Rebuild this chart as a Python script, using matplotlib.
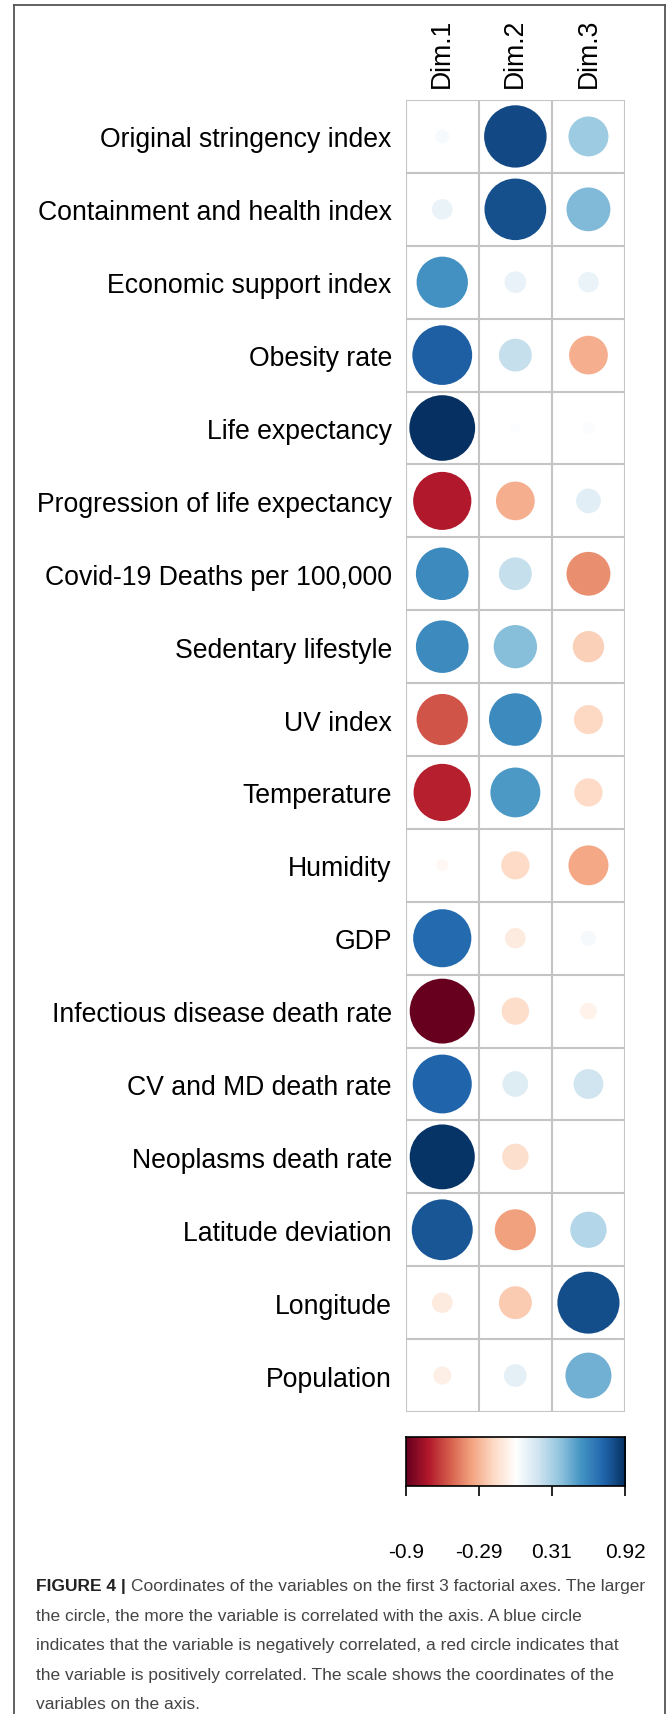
import numpy as np
import matplotlib
matplotlib.use("Agg")
import matplotlib.pyplot as plt
from matplotlib.colors import LinearSegmentedColormap, Normalize
from matplotlib.patches import Circle
from matplotlib.lines import Line2D

plt.rcParams['font.family'] = ['Liberation Sans', 'DejaVu Sans']

# variables (rows) and factorial axes (columns)
variables = [
    "Original stringency index", "Containment and health index",
    "Economic support index", "Obesity rate", "Life expectancy",
    "Progression of life expectancy", "Covid-19 Deaths per 100,000",
    "Sedentary lifestyle", "UV index", "Temperature", "Humidity", "GDP",
    "Infectious disease death rate", "CV and MD death rate",
    "Neoplasms death rate", "Latitude deviation", "Longitude", "Population",
]
dims = ["Dim.1", "Dim.2", "Dim.3"]

# coordinates
dim1 = [0.04, 0.09, 0.56, 0.76, 0.92, -0.72, 0.59, 0.59, -0.56, -0.70,
        -0.03, 0.72, -0.90, 0.74, 0.90, 0.79, -0.09, -0.07]
dim2 = [0.83, 0.81, 0.10, 0.23, 0.02, -0.32, 0.23, 0.40, 0.59, 0.53,
        -0.17, -0.09, -0.16, 0.14, -0.15, -0.36, -0.23, 0.11]
dim3 = [0.34, 0.41, 0.09, -0.32, 0.03, 0.13, -0.41, -0.21, -0.18, -0.17,
        -0.34, 0.05, -0.06, 0.19, 0.0, 0.28, 0.82, 0.45]

scale_min, scale_max = -0.9, 0.92
scale_labels = ["-0.9", "-0.29", "0.31", "0.92"]

caption_bold = "FIGURE 4 | "
caption_lines = [
    "Coordinates of the variables on the first 3 factorial axes. The larger",
    "the circle, the more the variable is correlated with the axis. A blue circle",
    "indicates that the variable is negatively correlated, a red circle indicates that",
    "the variable is positively correlated. The scale shows the coordinates of the",
    "variables on the axis.",
]

# corrplot style red-white-blue ramp
cmap = LinearSegmentedColormap.from_list("corr", [
    "#67001F", "#B2182B", "#D6604D", "#F4A582", "#FDDBC7", "#FFFFFF",
    "#D1E5F0", "#92C5DE", "#4393C3", "#2166AC", "#053061"])
norm = Normalize(scale_min, scale_max)

W, H = 669, 1715
fig = plt.figure(figsize=(W / 100, H / 100), dpi=100)


def box(x0, y0, x1, y1):
    # pixel box (top-left origin) -> figure fraction rect
    return [x0 / W, 1 - y1 / H, (x1 - x0) / W, (y1 - y0) / H]


# main grid
ax = fig.add_axes(box(405.7, 101, 625, 1413))
vals = np.array([dim1, dim2, dim3]).T
nrow, ncol = vals.shape
vmax = np.abs(vals).max()
for i in range(nrow):
    for j in range(ncol):
        v = vals[i, j]
        r = 0.45 * np.sqrt(abs(v) / vmax)
        if r > 0:
            ax.add_patch(Circle((j + 0.5, i + 0.5), r, color=cmap(norm(v)), lw=0))
for k in range(nrow + 1):
    ax.axhline(k, color="#c4c4c4", lw=1.5, zorder=3)
for k in range(ncol + 1):
    ax.axvline(k, color="#c4c4c4", lw=1.5, zorder=3)
ax.set_xlim(0, ncol)
ax.set_ylim(nrow, 0)
for s in ax.spines.values():
    s.set_visible(False)
ax.set_yticks(np.arange(nrow) + 0.5, variables, fontsize=19.2)
ax.xaxis.tick_top()
ax.set_xticks(np.arange(ncol) + 0.5, dims, fontsize=19.2, rotation=90)
ax.tick_params(length=0)
ax.tick_params(axis="y", pad=10)
ax.tick_params(axis="x", pad=9)

# colour scale
cax = fig.add_axes(box(405.7, 1438, 625, 1487))
grad = np.linspace(scale_min, scale_max, 400).reshape(1, -1)
cax.imshow(grad, cmap=cmap, norm=norm, aspect="auto",
           extent=[scale_min, scale_max, 0, 1])
cax.set_xlim(scale_min, scale_max)
cax.set_yticks([])
cax.set_xticks(np.linspace(scale_min, scale_max, 4), scale_labels, fontsize=15)
cax.tick_params(axis="x", length=7.5, width=1.2, pad=33)
for s in cax.spines.values():
    s.set_linewidth(1.2)

# frame around the figure
frame = dict(color="#555555", lw=1.3, transform=fig.transFigure)
fig.add_artist(Line2D([14 / W, 14 / W], [0, 1 - 6 / H], **frame))
fig.add_artist(Line2D([14 / W, 665 / W], [1 - 6 / H, 1 - 6 / H], **frame))
fig.add_artist(Line2D([665 / W, 665 / W], [0, 1 - 6 / H], **frame))

# caption: shrink the font until the widest line fits between x=36 and x=648
renderer = fig.canvas.get_renderer()
size = 15.0
while True:
    tb = fig.text(0, 0, caption_bold, fontsize=size, fontweight="bold")
    tl = fig.text(0, 0, caption_lines[0], fontsize=size)
    widths = [fig.text(0, 0, l, fontsize=size).get_window_extent(renderer).width
              for l in caption_lines[1:]]
    w0 = tb.get_window_extent(renderer).width + tl.get_window_extent(renderer).width
    for t in list(fig.texts):
        t.remove()
    if max([w0] + widths) <= 612 or size < 8:
        break
    size -= 0.25

y0 = 1587
for n, line in enumerate(caption_lines):
    y = 1 - (y0 + n * 29.5) / H
    x = 36 / W
    if n == 0:
        t = fig.text(x, y, caption_bold, fontsize=size, fontweight="bold",
                     color="#222222", va="center")
        x = t.get_window_extent(renderer).x1 / W
    fig.text(x, y, line, fontsize=size, color="#444444", va="center")

fig.savefig("out.png", dpi=100)
